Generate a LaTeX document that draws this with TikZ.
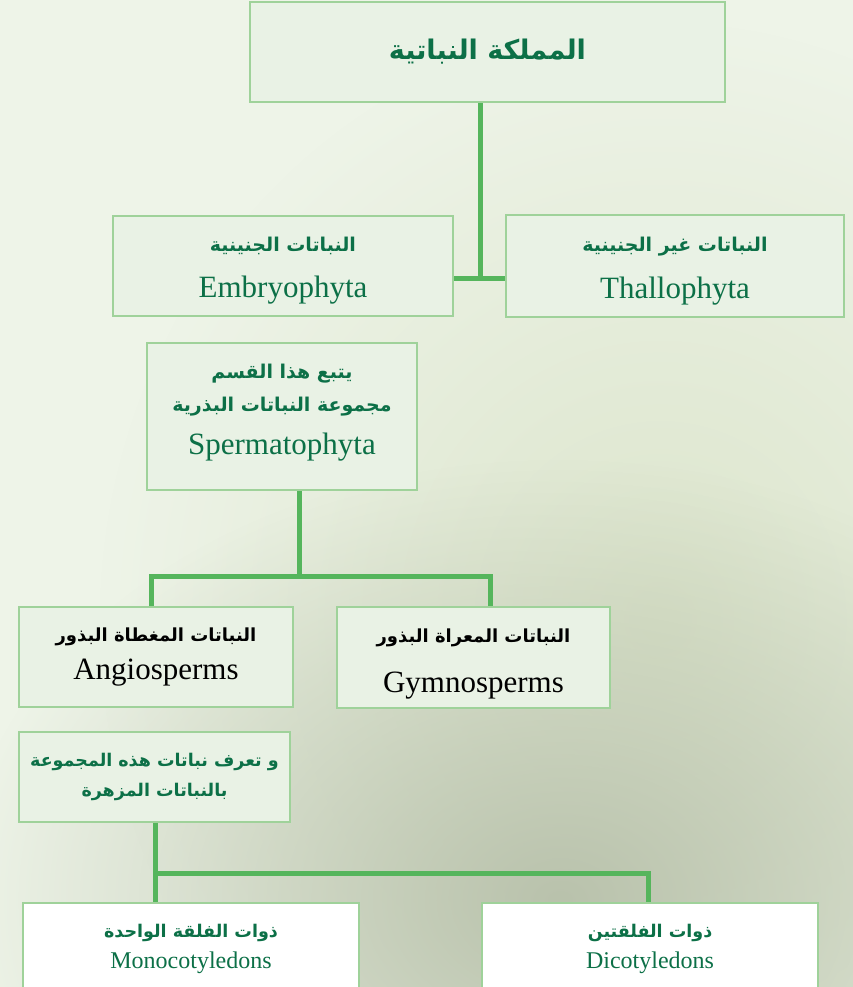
\documentclass[tikz,border=0pt]{standalone}
\usepackage{fontspec}
\setmainfont{Liberation Serif}
\newfontfamily\arabicfont[Script=Arabic]{DejaVu Sans}
\TeXXeTstate=1
\usetikzlibrary{positioning,fadings}

\definecolor{bgcol}{HTML}{EEF4E8}
\definecolor{boxfill}{HTML}{E9F2E5}
\definecolor{boxline}{HTML}{9FD29A}
\definecolor{linkgreen}{HTML}{55B55C}
\definecolor{leafgreen}{HTML}{0C7047}
\definecolor{flowergray}{HTML}{B9C2AC}
\definecolor{hazegreen}{HTML}{DCE5CC}

\newcommand{\arfont}[1]{\arabicfont\bfseries\fontsize{#1}{#1}\selectfont}
\newcommand{\latfont}[1]{\fontsize{#1}{#1}\selectfont}

\tikzfading[name=softglow, inner color=transparent!0, outer color=transparent!100]

\tikzset{
  box/.style={draw=boxline, fill=boxfill, line width=2.5pt, inner sep=0pt,
    align=center, text=leafgreen},
  leafbox/.style={box, fill=white},
  link/.style={draw=linkgreen, line width=5pt},
}

\begin{document}
\begin{tikzpicture}[x=1pt, y=-1pt]
    \useasboundingbox (0,0) rectangle (853,987);
    
    % background with the faded flower
    \fill[bgcol] (0,0) rectangle (853,987);
    \fill[hazegreen, path fading=softglow] (660,620) ellipse (560 and 600);
    \fill[flowergray, path fading=softglow] (560,900) ellipse (600 and 440);
    
    % kingdom
    \node[box, minimum width=475, minimum height=100] (king) at (487.5,52)
        {{\arfont{27}\beginR المملكة النباتية\endR}};
    
    % first split
    \node[box, minimum width=340, minimum height=100] (embryo) at (283,266)
        {{\arfont{19}\rule{0pt}{24pt}\beginR النباتات الجنينية\endR}\\[20pt]{\latfont{31}Embryophyta}};
    \node[box, minimum width=338, minimum height=102] (thallo) at (675,266)
        {{\arfont{19}\rule{0pt}{24pt}\beginR النباتات غير الجنينية\endR}\\[20pt]{\latfont{31}Thallophyta}};
    
    \node[box, minimum width=270, minimum height=147] (sperma) at (282,416.5)
        {{\arfont{19}\beginR يتبع هذا القسم\endR}\\[13pt]{\arfont{19}\beginR مجموعة النباتات البذرية\endR}\\[16pt]{\latfont{31}Spermatophyta\rule[-15pt]{0pt}{15pt}}};
    
    % seed plants
    \node[box, text=black, minimum width=274, minimum height=100] (angio) at (156,657)
        {{\arfont{18}\beginR النباتات المغطاة البذور\endR}\\[13pt]{\latfont{31}Angiosperms}};
    \node[box, text=black, minimum width=273, minimum height=101] (gymno) at (473.5,657.5)
        {{\arfont{18}\rule{0pt}{26pt}\beginR النباتات المعراة البذور\endR}\\[24pt]{\latfont{31}Gymnosperms}};
    
    \node[box, minimum width=271, minimum height=90] (flower) at (154.5,777)
        {{\arfont{17.5}\beginR و تعرف نباتات هذه المجموعة\endR}\\[12pt]{\arfont{17.5}\beginR بالنباتات المزهرة\endR}};
    
    % flowering plants
    \node[leafbox, minimum width=336, minimum height=92] (mono) at (191,949)
        {{\arfont{17.5}\beginR ذوات الفلقة الواحدة\endR}\\[9pt]{\latfont{24}Monocotyledons}};
    \node[leafbox, minimum width=336, minimum height=92] (dico) at (650,949)
        {{\arfont{17.5}\beginR ذوات الفلقتين\endR}\\[9pt]{\latfont{24}Dicotyledons}};
    
    % junctions
    \coordinate (j1) at (480,278);
    \coordinate (j2) at (299,576);
    \coordinate (j2l) at (151,576); \coordinate (j2r) at (490,576);
    \coordinate (j3l) at (155,873); \coordinate (j3r) at (648,873);
    
    \draw[link] (king.south -| j1) -- (j1);
    \draw[link] (embryo.east |- j1) -- (thallo.west |- j1);
    
    \draw[link] (sperma.south -| j2) -- (j2);
    \draw[link] (angio.north -| j2l) -- (j2l) -- (j2r) -- (gymno.north -| j2r);
    
    \draw[link] (flower.south -| j3l) -- (j3l) -- (j3r) -- (dico.north -| j3r);
    \draw[link] (j3l) -- (mono.north -| j3l);
\end{tikzpicture}
\end{document}
